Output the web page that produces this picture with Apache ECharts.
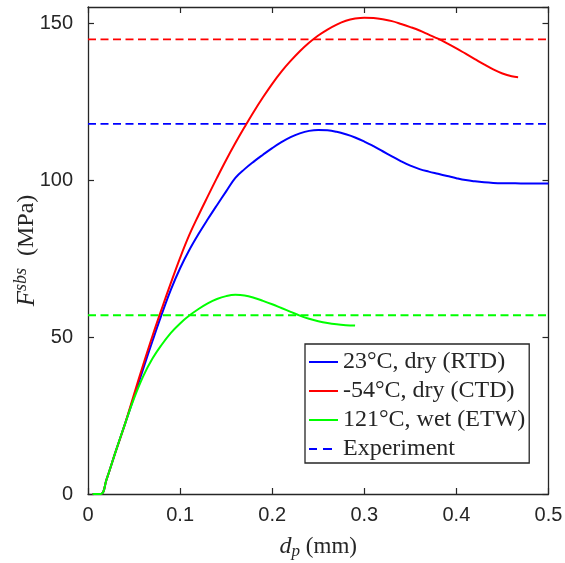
<!DOCTYPE html>
<html>
<head>
<meta charset="utf-8">
<script src="https://cdn.jsdelivr.net/npm/echarts@6/dist/echarts.min.js"></script>
<style>html,body{margin:0;padding:0;background:#fff;}#c{width:565px;height:563px;}</style>
</head>
<body>
<div id="c"></div>
<script>
// Data
const rtdX = [0.005, 0.014, 0.02, 0.03, 0.04, 0.05, 0.06, 0.07, 0.08, 0.09, 0.10, 0.11, 0.12, 0.13, 0.14, 0.15, 0.16, 0.17, 0.18, 0.19, 0.20, 0.21, 0.22, 0.23, 0.24, 0.25, 0.26, 0.27, 0.28, 0.29, 0.30, 0.31, 0.32, 0.33, 0.34, 0.35, 0.36, 0.37, 0.38, 0.39, 0.40, 0.41, 0.42, 0.43, 0.44, 0.45, 0.47, 0.5];
const rtdY = [0, 0, 4.5, 13.5, 22.2, 31.0, 40.0, 48.8, 57.3, 65.2, 72.0, 77.8, 82.9, 87.6, 92.1, 96.5, 100.8, 103.6, 106.0, 108.2, 110.3, 112.2, 113.8, 115.0, 115.8, 116.1, 116.0, 115.5, 114.7, 113.7, 112.4, 110.9, 109.3, 107.7, 106.1, 104.7, 103.6, 102.8, 102.1, 101.4, 100.7, 100.1, 99.7, 99.4, 99.2, 99.1, 99.05, 99.0];

const ctdX = [0.005, 0.014, 0.02, 0.03, 0.04, 0.05, 0.06, 0.07, 0.08, 0.09, 0.10, 0.11, 0.12, 0.13, 0.14, 0.15, 0.16, 0.17, 0.18, 0.19, 0.20, 0.21, 0.22, 0.23, 0.24, 0.25, 0.26, 0.27, 0.28, 0.29, 0.30, 0.31, 0.32, 0.33, 0.34, 0.35, 0.36, 0.37, 0.38, 0.39, 0.40, 0.41, 0.42, 0.43, 0.44, 0.45, 0.46, 0.467];
const ctdY = [0, 0, 4.5, 13.5, 22.2, 31.8, 41.3, 50.4, 59.0, 67.3, 75.3, 82.6, 88.9, 94.9, 100.8, 106.5, 111.9, 117.0, 121.9, 126.5, 130.8, 134.7, 138.1, 141.2, 143.9, 146.2, 148.1, 149.7, 150.9, 151.6, 151.9, 151.8, 151.4, 150.8, 149.9, 148.9, 147.8, 146.5, 145.2, 143.7, 142.1, 140.4, 138.7, 137.0, 135.4, 134.1, 133.2, 132.9];

const etwX = [0.005, 0.014, 0.02, 0.03, 0.04, 0.05, 0.06, 0.07, 0.08, 0.09, 0.10, 0.11, 0.12, 0.13, 0.14, 0.15, 0.16, 0.17, 0.18, 0.19, 0.20, 0.21, 0.22, 0.23, 0.24, 0.25, 0.26, 0.27, 0.28, 0.29];
const etwY = [0, 0, 4.5, 13.5, 22.2, 30.5, 37.6, 43.2, 47.6, 51.4, 54.4, 56.9, 59.0, 60.8, 62.2, 63.1, 63.5, 63.3, 62.6, 61.6, 60.5, 59.3, 58.1, 56.9, 55.9, 55.1, 54.5, 54.1, 53.85, 53.7];

const expX = [0, 0.5];
const expRTD = 118;
const expCTD = 145;
const expETW = 57;

const legendNames = ['23°C, dry (RTD)', '-54°C, dry (CTD)', '121°C, wet (ETW)', 'Experiment'];
const xTicks = [0, 0.1, 0.2, 0.3, 0.4, 0.5];
const yTicks = [0, 50, 100, 150];

function pairs(xs, ys) { return xs.map((x, i) => [x, ys[i]]); }
function flat(xs, v) { return xs.map(x => [x, v]); }

const axisCol = '#262626';
const chart = echarts.init(document.getElementById('c'));
const solid = (name, color, data) => ({
  name, type: 'line', data, showSymbol: false, symbol: 'none',
  smooth: 0.4,
  lineStyle: { color, width: 2 }, itemStyle: { color }, z: 3
});
const dashed = (name, color, v) => ({
  name, type: 'line', data: flat(expX, v), showSymbol: false, symbol: 'none',
  lineStyle: { color, width: 1.8, type: [8, 4.5] }, itemStyle: { color }, z: 2
});

const baseX = {
  type: 'value', min: 0, max: 0.5, interval: 0.1,
  axisLine: { show: true, onZero: false, lineStyle: { color: axisCol, width: 1.3 } },
  axisTick: { show: true, inside: true, length: 6, lineStyle: { color: axisCol, width: 1.2 } },
  splitLine: { show: false }
};
const baseY = {
  type: 'value', min: 0, max: 155.3, interval: 50,
  axisLine: { show: true, onZero: false, lineStyle: { color: axisCol, width: 1.3 } },
  axisTick: { show: true, inside: true, length: 6, lineStyle: { color: axisCol, width: 1.2 } },
  splitLine: { show: false }
};

const solidIcon = 'path://M0,0H29V2H0Z';
const dashIcon = 'path://M0,0H8V2H0Z M14,0H23V2H14Z M29,2L29,2Z';

chart.setOption({
  animation: false,
  grid: { left: 88, top: 7, right: 16.5, bottom: 69, containLabel: false, outerBoundsMode: 'none' },
  xAxis: [
    Object.assign({}, baseX, {
      position: 'bottom',
      axisLabel: { show: true, margin: 11, fontSize: 20, color: axisCol, fontFamily: 'Liberation Sans, Arial, sans-serif',
        formatter: v => xTicks.some(t => Math.abs(t - v) < 1e-9) ? String(+v.toFixed(1)) : '' },
      name: '{i|d}{sub|p}{n| (mm)}', nameLocation: 'middle', nameGap: 39, nameMoveOverlap: false,
      nameTextStyle: { color: axisCol, rich: {
        i: { fontFamily: 'Liberation Serif', fontStyle: 'italic', fontSize: 24, color: axisCol },
        sub: { fontFamily: 'Liberation Serif', fontStyle: 'italic', fontSize: 17, color: axisCol, padding: [10, 0, 0, 0] },
        n: { fontFamily: 'Liberation Serif', fontSize: 23, color: axisCol }
      } }
    }),
    Object.assign({}, baseX, { position: 'top', axisLabel: { show: false } })
  ],
  yAxis: [
    Object.assign({}, baseY, {
      position: 'left',
      axisLabel: { show: true, margin: 15, fontSize: 20, color: axisCol, fontFamily: 'Liberation Sans, Arial, sans-serif',
        showMaxLabel: false,
        formatter: v => yTicks.indexOf(Math.round(v)) >= 0 && Math.abs(v - Math.round(v)) < 1e-6 ? String(Math.round(v)) : '' },
      name: '{i|F}{sup|sbs}{n|  (MPa)}', nameLocation: 'middle', nameRotate: 90, nameGap: 46, nameMoveOverlap: false,
      nameTextStyle: { color: axisCol, rich: {
        i: { fontFamily: 'Liberation Serif', fontStyle: 'italic', fontSize: 25, color: axisCol },
        sup: { fontFamily: 'Liberation Serif', fontStyle: 'italic', fontSize: 18, color: axisCol, padding: [0, 0, 12, 0] },
        n: { fontFamily: 'Liberation Serif', fontSize: 24, color: axisCol }
      } }
    }),
    Object.assign({}, baseY, { position: 'right', axisLabel: { show: false } })
  ],
  legend: {
    data: [
      { name: legendNames[0], icon: solidIcon },
      { name: legendNames[1], icon: solidIcon },
      { name: legendNames[2], icon: solidIcon },
      { name: legendNames[3], icon: dashIcon }
    ],
    orient: 'vertical', left: 305, top: 344,
    padding: [6, 4, 2, 4], itemGap: 5, itemWidth: 29, itemHeight: 2,
    borderColor: axisCol, borderWidth: 1.3, backgroundColor: '#fff',
    textStyle: { fontFamily: 'Liberation Serif', fontSize: 24, color: axisCol, lineHeight: 24 }
  },
  series: [
    dashed('-54 exp', '#ff0000', expCTD),
    dashed('Experiment', '#0000ff', expRTD),
    dashed('121 exp', '#00ff00', expETW),
    solid(legendNames[0], '#0000ff', pairs(rtdX, rtdY)),
    solid(legendNames[1], '#ff0000', pairs(ctdX, ctdY)),
    solid(legendNames[2], '#00ff00', pairs(etwX, etwY))
  ]
});
</script>
</body>
</html>
